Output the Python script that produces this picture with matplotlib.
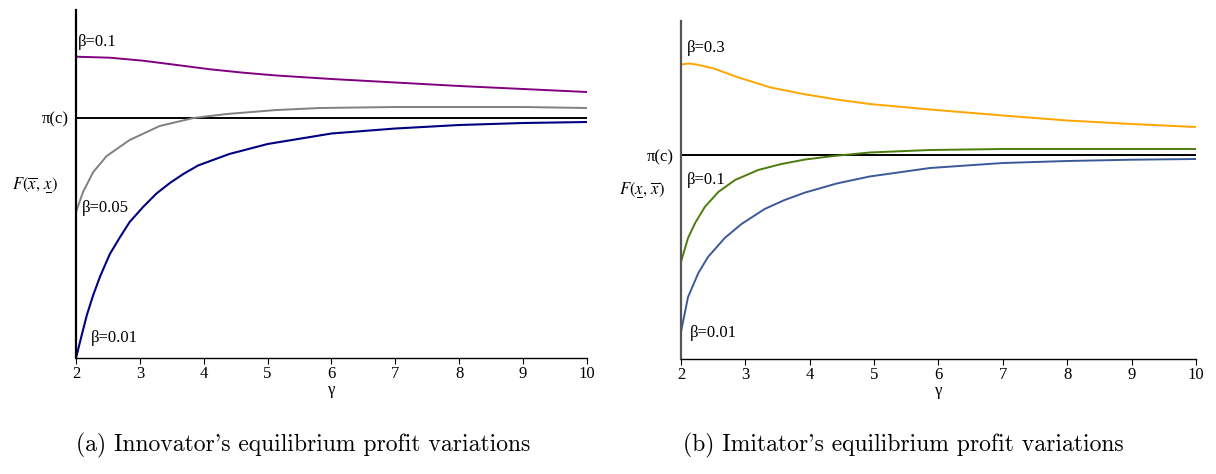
import matplotlib
matplotlib.use("Agg")
import matplotlib.pyplot as plt

plt.rcParams["mathtext.fontset"] = "stix"

# --- data (heights in arbitrary units, 0 = x axis) ---
# (a) innovator
g_inn_purple = [2.0, 2.53, 3.05, 3.58, 4.1, 4.62, 5.14, 6.0, 7.0, 8.0, 9.0, 10.0]
f_inn_purple = [301.3, 300.3, 297.3, 293, 288.7, 285.3, 282.5, 279, 275.5, 272, 269, 266]
g_inn_gray = [2.0, 2.11, 2.27, 2.48, 2.84, 3.31, 3.84, 4.36, 5.14, 5.82, 7.0, 8.0, 9.0, 10.0]
f_inn_gray = [146, 166, 186, 202, 218, 232, 240, 244, 248, 250, 251, 251, 251, 250]
g_inn_blue = [2.0, 2.09, 2.17, 2.27, 2.38, 2.53, 2.69, 2.84, 3.05, 3.26, 3.47, 3.68,
              3.91, 4.4, 5.0, 6.0, 7.0, 8.0, 9.0, 10.0]
f_inn_blue = [0, 23, 43, 63, 82, 104, 121, 136, 151, 164.5, 175, 184,
              192.5, 204, 214, 224.5, 229.5, 233, 235, 236]
pi_inn = 240.3

# (b) imitator
g_imi_orange = [2.0, 2.12, 2.24, 2.5, 2.86, 3.38, 3.9, 4.42, 4.93, 5.87, 7.0, 8.0, 9.0, 10.0]
f_imi_orange = [294.5, 295.5, 294.5, 290.7, 282.3, 271.7, 265, 259.5, 255, 249.5, 243.5, 238.5, 235, 232]
g_imi_green = [2.0, 2.11, 2.22, 2.37, 2.58, 2.84, 3.2, 3.56, 3.93, 4.37, 4.93, 5.87, 7.0, 8.0, 9.0, 10.0]
f_imi_green = [97, 121, 136, 152, 167, 179, 189, 195, 199.5, 203, 206.5, 209, 210, 210, 210, 210]
g_imi_blue = [2.0, 2.11, 2.27, 2.42, 2.68, 2.94, 3.3, 3.61, 3.93, 4.42, 4.93, 5.87, 7.0, 8.0, 9.0, 10.0]
f_imi_blue = [27, 62, 86, 102, 121, 135, 150, 159, 166.5, 175.5, 182.5, 191, 196, 198, 199.3, 200]
pi_imi = 204

xticks = [2, 3, 4, 5, 6, 7, 8, 9, 10]

serif = "Liberation Serif"

fig = plt.figure(figsize=(12.16, 4.74), dpi=100)
ax1 = fig.add_axes([0.0625, 0.2447, 0.4202, 0.7342])
ax2 = fig.add_axes([0.56, 0.2426, 0.4235, 0.7131])


def style(ax, ymax, pi, spine_col):
    ax.set_xlim(2, 10)
    ax.set_ylim(0, ymax)
    for s in ["top", "right"]:
        ax.spines[s].set_visible(False)
    ax.spines["left"].set_color(spine_col)
    ax.spines["left"].set_linewidth(1.6)
    ax.spines["bottom"].set_linewidth(1.0)
    ax.set_xticks(xticks)
    ax.set_xticklabels([str(t) for t in xticks], fontfamily=serif, fontsize=12)
    ax.tick_params(axis="x", length=4, width=0.8, pad=2)
    ax.set_yticks([pi])
    ax.set_yticklabels(["π(c)"], fontfamily=serif, fontsize=12)
    ax.tick_params(axis="y", length=0, pad=5)
    ax.set_xlabel("γ", fontfamily=serif, fontsize=12, labelpad=0)
    ax.axhline(pi, color="black", lw=1.4)


style(ax1, 348, pi_inn, "black")
ax1.plot(g_inn_purple, f_inn_purple, color="#800080", lw=1.4)
ax1.plot(g_inn_gray, f_inn_gray, color="#808080", lw=1.4)
ax1.plot(g_inn_blue, f_inn_blue, color="#000080", lw=1.5)
ax1.text(2.03, 316, "β=0.1", fontfamily=serif, fontsize=12, va="center")
ax1.text(2.09, 150, "β=0.05", fontfamily=serif, fontsize=12, va="center")
ax1.text(2.23, 20, "β=0.01", fontfamily=serif, fontsize=12, va="center")
ax1.text(-0.08, 0.497, r"$F\left(\overline{x},\,\underset{\overline{\;\,}}{x}\right)$",
         transform=ax1.transAxes, fontsize=12, ha="center", va="center")

style(ax2, 338, pi_imi, "#555555")
ax2.plot(g_imi_orange, f_imi_orange, color="#ffa500", lw=1.4)
ax2.plot(g_imi_green, f_imi_green, color="#4a7d0c", lw=1.4)
ax2.plot(g_imi_blue, f_imi_blue, color="#3b5998", lw=1.4)
ax2.text(2.09, 311, "β=0.3", fontfamily=serif, fontsize=12, va="center")
ax2.text(2.09, 179, "β=0.1", fontfamily=serif, fontsize=12, va="center")
ax2.text(2.14, 26, "β=0.01", fontfamily=serif, fontsize=12, va="center")
ax2.text(-0.076, 0.5, r"$F\left(\underset{\overline{\;\,}}{x},\,\overline{x}\right)$",
         transform=ax2.transAxes, fontsize=12, ha="center", va="center")

fig.text(303 / 1216, 1 - 445 / 474, "(a) Innovator's equilibrium profit variations",
         fontfamily="cmr10", fontsize=17, ha="center", va="center")
fig.text(903 / 1216, 1 - 445 / 474, "(b) Imitator's equilibrium profit variations",
         fontfamily="cmr10", fontsize=17, ha="center", va="center")

fig.savefig("out.png", dpi=100)
